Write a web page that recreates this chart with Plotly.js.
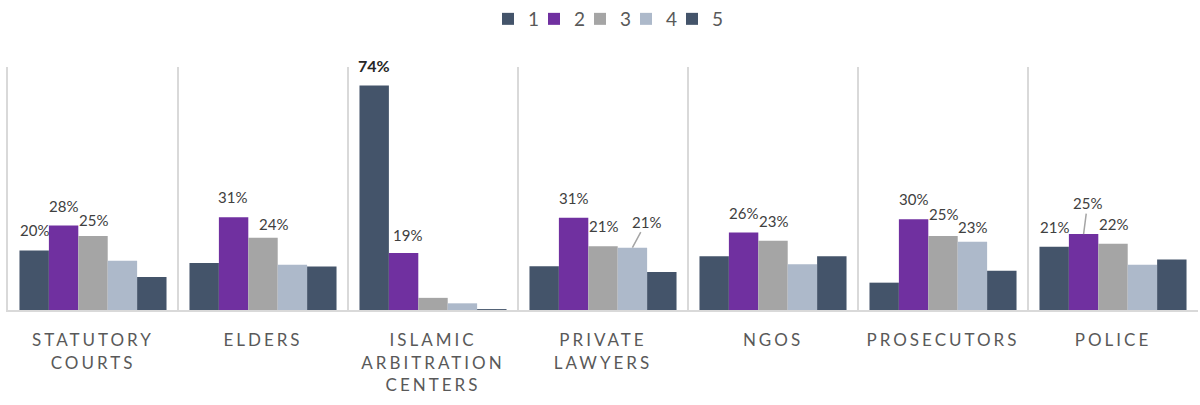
<!DOCTYPE html>
<html>
<head>
<meta charset="utf-8">
<script src="https://cdn.plot.ly/plotly-3.0.1.min.js"></script>
<style>
  html, body { margin: 0; padding: 0; background: #fff; }
  #chart { width: 1200px; height: 405px; }
  .xtick text { letter-spacing: 3px; }
  .legend .scrollbox { clip-path: none !important; }
</style>
</head>
<body>
<div id="chart"></div>
<script>
// ---- data ----
const categories = ['STATUTORY<br>COURTS', 'ELDERS', 'ISLAMIC<br>ARBITRATION<br>CENTERS',
                    'PRIVATE<br>LAWYERS', 'NGOS', 'PROSECUTORS', 'POLICE'];
const seriesNames = ['1', '2', '3', '4', '5'];
const series1 = [0.196, 0.155, 0.739, 0.144, 0.177, 0.090, 0.208];
const series2 = [0.278, 0.305, 0.188, 0.304, 0.255, 0.299, 0.250];
const series3 = [0.244, 0.238, 0.040, 0.210, 0.228, 0.244, 0.218];
const series4 = [0.162, 0.149, 0.022, 0.205, 0.151, 0.225, 0.149];
const series5 = [0.109, 0.143, 0.003, 0.125, 0.177, 0.129, 0.166];
const labels1 = ['20%', '', '74%', '', '', '', '21%'];
const labels2 = ['28%', '31%', '19%', '31%', '26%', '30%', '25%'];
const labels3 = ['25%', '24%', '', '21%', '23%', '25%', '22%'];
const labels4 = ['', '', '', '21%', '', '23%', ''];
const labels5 = ['', '', '', '', '', '', ''];

// ---- style ----
const colors = ['#44546A', '#7030A0', '#A5A5A5', '#ADB9CA', '#44546A'];
const allValues = [series1, series2, series3, series4, series5];
const allLabels = [labels1, labels2, labels3, labels4, labels5];
const FONT = 'Lato, "Open Sans", sans-serif';
const bargap = 0.135;
const barW = (1 - bargap) / seriesNames.length;

// label tweaks keyed "series,category"
const labelStyle = {
  '0,2': { bold: true },
  '3,3': { arrow: [14, -26] },
  '1,6': { arrow: [4, -31] },
  '1,1': { dx: -1 },
  '2,1': { dx: 10, dy: -6 },
  '2,0': { dy: -4 },
  '2,5': { dy: 2 },
  '3,5': { dy: -5 },
  '1,2': { dx: 4, dy: -2 }
};

const traces = allValues.map((vals, s) => ({
  type: 'bar',
  name: seriesNames[s],
  x: categories,
  y: vals,
  marker: { color: colors[s], line: { width: 0 } },
  hoverinfo: 'skip'
}));

const annotations = [];
allLabels.forEach((labs, s) => {
  labs.forEach((txt, c) => {
    if (!txt) return;
    const st = labelStyle[s + ',' + c] || {};
    const a = {
      x: c + (s - (seriesNames.length - 1) / 2) * barW,
      y: allValues[s][c],
      xref: 'x', yref: 'y',
      text: st.bold ? '<b>' + txt + '</b>' : txt,
      font: { family: FONT, size: st.bold ? 16 : 15, color: st.bold ? '#262626' : '#404040' },
      xanchor: 'center', yanchor: 'middle'
    };
    if (st.arrow) {
      a.showarrow = true;
      a.ax = st.arrow[0];
      a.ay = st.arrow[1];
      a.arrowhead = 0;
      a.arrowwidth = 1.5;
      a.arrowcolor = '#A5A5A5';
      a.standoff = 0;
    } else {
      a.showarrow = false;
      a.xshift = st.dx || 0;
      a.yshift = 20 + (st.dy || 0);
    }
    annotations.push(a);
  });
});

const layout = {
  width: 1200,
  height: 405,
  margin: { l: 8, r: 2, t: 67, b: 95 },
  paper_bgcolor: '#ffffff',
  plot_bgcolor: '#ffffff',
  barmode: 'group',
  bargap: bargap,
  bargroupgap: 0,
  showlegend: true,
  legend: {
    orientation: 'h',
    x: 0.5, xanchor: 'center',
    y: 1.0, yanchor: 'top',
    yref: 'container',
    font: { family: FONT, size: 19, color: '#595959' },
    itemwidth: 30,
    entrywidth: 1,
    entrywidthmode: 'pixels',
    traceorder: 'normal'
  },
  xaxis: {
    type: 'category',
    tickson: 'boundaries',
    showgrid: true,
    gridcolor: '#D9D9D9',
    gridwidth: 2,
    showline: true,
    linecolor: '#D9D9D9',
    linewidth: 2,
    ticks: '',
    ticklabelstandoff: 14,
    tickfont: { family: FONT, size: 17, color: '#595959' },
    fixedrange: true
  },
  yaxis: {
    range: [0, 0.8],
    visible: true,
    showticklabels: false,
    ticks: '',
    showline: true,
    linecolor: '#D9D9D9',
    linewidth: 2,
    showgrid: false,
    zeroline: false,
    fixedrange: true
  },
  annotations: annotations
};

Plotly.newPlot('chart', traces, layout, { displayModeBar: false, staticPlot: true });
</script>
</body>
</html>
